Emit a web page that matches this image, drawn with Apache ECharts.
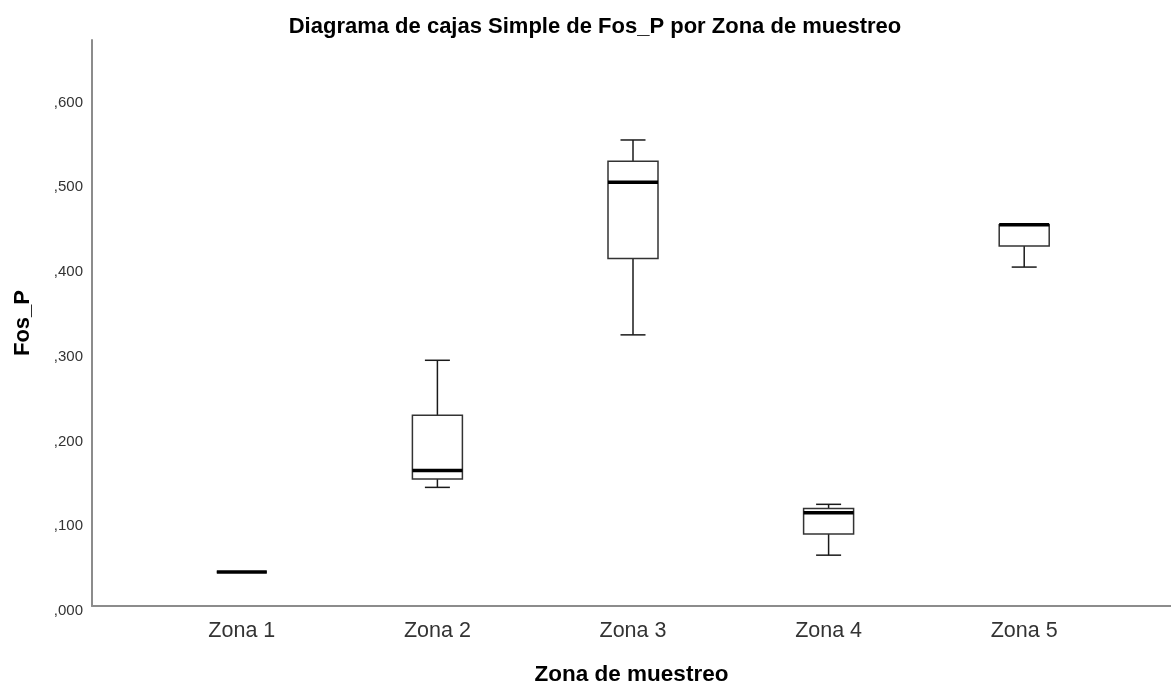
<!DOCTYPE html>
<html>
<head>
<meta charset="utf-8">
<script src="https://cdn.jsdelivr.net/npm/echarts@6/dist/echarts.min.js"></script>
<style>
  html, body { margin: 0; padding: 0; background: #fff; }
  #chart { width: 1171px; height: 688px; }
</style>
</head>
<body>
<div id="chart"></div>
<script>
// categorias del eje X
var zonas = ['Zona 1', 'Zona 2', 'Zona 3', 'Zona 4', 'Zona 5'];
// cinco numeros de cada caja
var minimos  = [0.040, 0.140, 0.320, 0.060, 0.400];
var q1       = [0.040, 0.150, 0.410, 0.085, 0.425];
var medianas = [0.040, 0.160, 0.500, 0.110, 0.450];
var q3       = [0.040, 0.225, 0.525, 0.115, 0.450];
var maximos  = [0.040, 0.290, 0.550, 0.120, 0.450];
// eje Y
var yMin = 0;
var yMax = 0.668;
var yPaso = 0.1;

var fuente = 'Liberation Sans, Arial, sans-serif';

// [indice, min, q1, mediana, q3, max]
var cajas = zonas.map(function (z, i) {
  return [i, minimos[i], q1[i], medianas[i], q3[i], maximos[i]];
});

// formato SPSS: ,100 ,200 ...
function etiquetaY(v) {
  return v.toFixed(3).replace(/^0\./, ',');
}

// caja estilo SPSS: bigotes con remate de media anchura y mediana gruesa
function dibujaCaja(params, api) {
  var i = api.value(0);
  var pMin = api.coord([i, api.value(1)]);
  var pQ1 = api.coord([i, api.value(2)]);
  var pMed = api.coord([i, api.value(3)]);
  var pQ3 = api.coord([i, api.value(4)]);
  var pMax = api.coord([i, api.value(5)]);
  var x = pMed[0];
  var media = 25, remate = 12.5;
  var linea = { stroke: '#1a1a1a', lineWidth: 1.5 };
  function seg(x1, y1, x2, y2, estilo) {
    return { type: 'line', shape: { x1: x1, y1: y1, x2: x2, y2: y2 }, style: estilo };
  }
  return {
    type: 'group',
    children: [
      seg(x, pQ1[1], x, pMin[1], linea),
      seg(x, pQ3[1], x, pMax[1], linea),
      seg(x - remate, pMin[1], x + remate, pMin[1], linea),
      seg(x - remate, pMax[1], x + remate, pMax[1], linea),
      {
        type: 'rect',
        shape: { x: x - media, y: pQ3[1], width: media * 2, height: pQ1[1] - pQ3[1] },
        style: { fill: '#fff', stroke: '#333', lineWidth: 1.5 }
      },
      seg(x - media, pMed[1], x + media, pMed[1], { stroke: '#000', lineWidth: 3.5 })
    ]
  };
}

var chart = echarts.init(document.getElementById('chart'));

var option = {
  animation: false,
  backgroundColor: '#fff',
  title: {
    text: 'Diagrama de cajas Simple de Fos_P por Zona de muestreo',
    left: 590,
    textAlign: 'center',
    top: 11,
    textStyle: { fontFamily: fuente, fontSize: 22, fontWeight: 'bold', color: '#000' }
  },
  grid: [
    // rejilla de los ejes (lineas grises y nombres)
    { left: 92, right: 0, top: 40, bottom: 82, outerBoundsMode: 'none' },
    // rejilla de las cajas
    { left: 144, right: 49, top: 40, bottom: 82, outerBoundsMode: 'none' }
  ],
  xAxis: [
    {
      gridIndex: 0,
      type: 'value',
      min: 0, max: 1,
      name: 'Zona de muestreo',
      nameLocation: 'middle',
      nameGap: 57,
      nameTextStyle: { fontFamily: fuente, fontSize: 22.5, fontWeight: 'bold', color: '#000' },
      axisLine: { show: true, onZero: false, lineStyle: { color: '#8c8c8c', width: 2 } },
      axisTick: { show: false },
      axisLabel: { show: false },
      splitLine: { show: false }
    },
    {
      gridIndex: 1,
      type: 'category',
      data: zonas,
      axisLine: { show: false },
      axisTick: { show: false },
      splitLine: { show: false },
      axisLabel: { margin: 14, fontFamily: fuente, fontSize: 21.5, color: '#333' }
    }
  ],
  yAxis: [
    {
      gridIndex: 0,
      type: 'value',
      min: yMin, max: yMax, interval: yPaso,
      name: 'Fos_P',
      nameLocation: 'middle',
      nameGap: 58,
      nameRotate: 90,
      nameTextStyle: { fontFamily: fuente, fontSize: 22, fontWeight: 'bold', color: '#000' },
      axisLine: { show: true, lineStyle: { color: '#8c8c8c', width: 2 } },
      axisTick: { show: false },
      splitLine: { show: false },
      axisLabel: {
        margin: 9,
        verticalAlign: 'top',
        lineHeight: 10,
        showMaxLabel: false,
        fontFamily: fuente, fontSize: 15, color: '#333',
        formatter: etiquetaY
      }
    },
    {
      gridIndex: 1,
      type: 'value',
      min: yMin, max: yMax, interval: yPaso,
      show: false,
      splitLine: { show: false }
    }
  ],
  series: [
    {
      name: 'Fos_P',
      type: 'custom',
      xAxisIndex: 1,
      yAxisIndex: 1,
      renderItem: dibujaCaja,
      encode: { x: 0, y: [1, 2, 3, 4, 5] },
      data: cajas,
      silent: true
    }
  ]
};

chart.setOption(option);
</script>
</body>
</html>
